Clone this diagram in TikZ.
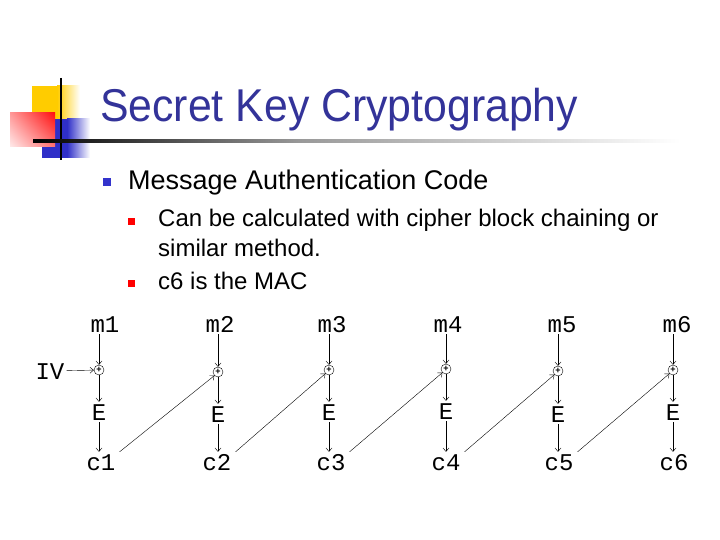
\documentclass[tikz,border=0pt]{standalone}
\usepackage{fontspec}
\setmainfont{Liberation Sans}
\setsansfont{Liberation Sans}
\setmonofont{Liberation Mono}
\newfontfamily\slidefont[FakeStretch=0.93]{Liberation Sans}
\usetikzlibrary{arrows.meta,positioning,shadings}
\definecolor{titleblue}{HTML}{333399}
\definecolor{bulletblue}{HTML}{3333CC}
\definecolor{logoyellow}{HTML}{FFCC00}
\definecolor{logored}{HTML}{FF1010}
\definecolor{logoblue}{HTML}{2F2FC8}

\begin{document}
\begin{tikzpicture}[x=1pt, y=-1pt,
  every node/.style={inner sep=2pt},
  lbl/.style={font=\fontsize{24}{26}\selectfont\ttfamily, text height=16pt, text depth=0pt},
  titletext/.style={font=\fontsize{46}{50}\selectfont\slidefont, text=titleblue, inner sep=0pt},
  headtext/.style={font=\fontsize{27}{30}\selectfont\sffamily, inner sep=0pt},
  subtext/.style={font=\fontsize{24}{30}\selectfont\sffamily, inner sep=0pt},
  xorbox/.style={circle, draw, thin, inner sep=0pt, minimum size=10pt, font=\fontsize{9}{9}\selectfont\bfseries\sffamily},
  arr/.style={-{Straight Barb[length=3.5pt,width=6pt]}, thin},
]
\useasboundingbox (0,0) rectangle (720,540);

% logo
\fill[logoyellow] (32,86) rectangle (57,119);
\shade[left color=logoyellow, right color=white] (57,86) rectangle (80,119);
\fill[logoblue] (42,119) rectangle (67,158);
\shade[left color=logoblue, right color=white] (67,119) rectangle (90,158);
\shade[upper right=logored, lower right=red!55, upper left=red!40, lower left=red!8] (10,113) rectangle (55,147);
\draw[line width=2.5pt] (61,78) -- (61,160);
\shade[left color=black, right color=black!40] (33,139.5) rectangle (300,142.5);
\shade[left color=black!40, right color=white] (300,139.5) rectangle (680,142.5);

\node[titletext, anchor=base west] (title) at (100,122) {Secret Key Cryptography};

% bullets
\fill[bulletblue] (103,178) rectangle (111,186);
\node[headtext, anchor=base west] (mac) at (128,190) {Message Authentication Code};
\fill[red] (128,218) rectangle (135,225);
\node[subtext, anchor=base west] (cbc) at (158,226) {Can be calculated with cipher block chaining or};
\node[subtext, anchor=base west] (cbc2) at (158,256) {similar method.};
\fill[red] (128,280) rectangle (135,287);
\node[subtext, anchor=base west] (mac6) at (158,289) {c6 is the MAC};

% chaining diagram
\node[lbl] (m1) at (105,324) {m1};
\node[lbl] (m2) at (220,324) {m2};
\node[lbl] (m3) at (332,324) {m3};
\node[lbl] (m4) at (448,324) {m4};
\node[lbl] (m5) at (562,324) {m5};
\node[lbl] (m6) at (677,324) {m6};

\node[xorbox] (x1) at (99,370) {+};
\node[xorbox] (x2) at (218,372) {+};
\node[xorbox] (x3) at (329,370) {+};
\node[xorbox] (x4) at (446,369) {+};
\node[xorbox] (x5) at (558,371) {+};
\node[xorbox] (x6) at (673,370) {+};

\node[lbl] (e1) at (99,412) {E};
\node[lbl] (e2) at (218,414) {E};
\node[lbl] (e3) at (329,412) {E};
\node[lbl] (e4) at (446,411) {E};
\node[lbl] (e5) at (558,414) {E};
\node[lbl] (e6) at (673,412) {E};

\node[lbl] (c1) at (101,462) {c1};
\node[lbl] (c2) at (217,462) {c2};
\node[lbl] (c3) at (331,462) {c3};
\node[lbl] (c4) at (446,462) {c4};
\node[lbl] (c5) at (559,462) {c5};
\node[lbl] (c6) at (674,462) {c6};

\node[lbl] (iv) at (50,371) {IV};
\draw[arr] (iv) -- (x1);

\draw[arr] (m1.south -| x1) -- (x1);
\draw[arr] (m2.south -| x2) -- (x2);
\draw[arr] (m3.south -| x3) -- (x3);
\draw[arr] (m4.south -| x4) -- (x4);
\draw[arr] (m5.south -| x5) -- (x5);
\draw[arr] (m6.south -| x6) -- (x6);

\draw[arr] (x1) -- (e1);
\draw[arr] (x2) -- (e2);
\draw[arr] (x3) -- (e3);
\draw[arr] (x4) -- (e4);
\draw[arr] (x5) -- (e5);
\draw[arr] (x6) -- (e6);

\draw[arr] (e1) -- (c1.north -| e1);
\draw[arr] (e2) -- (c2.north -| e2);
\draw[arr] (e3) -- (c3.north -| e3);
\draw[arr] (e4) -- (c4.north -| e4);
\draw[arr] (e5) -- (c5.north -| e5);
\draw[arr] (e6) -- (c6.north -| e6);

\draw[arr] ([xshift=2pt]c1.north east) -- (x2.south west);
\draw[arr] ([xshift=2pt]c2.north east) -- (x3.south west);
\draw[arr] ([xshift=2pt]c3.north east) -- (x4.south west);
\draw[arr] ([xshift=2pt]c4.north east) -- (x5.south west);
\draw[arr] ([xshift=2pt]c5.north east) -- (x6.south west);

\end{tikzpicture}
\end{document}
